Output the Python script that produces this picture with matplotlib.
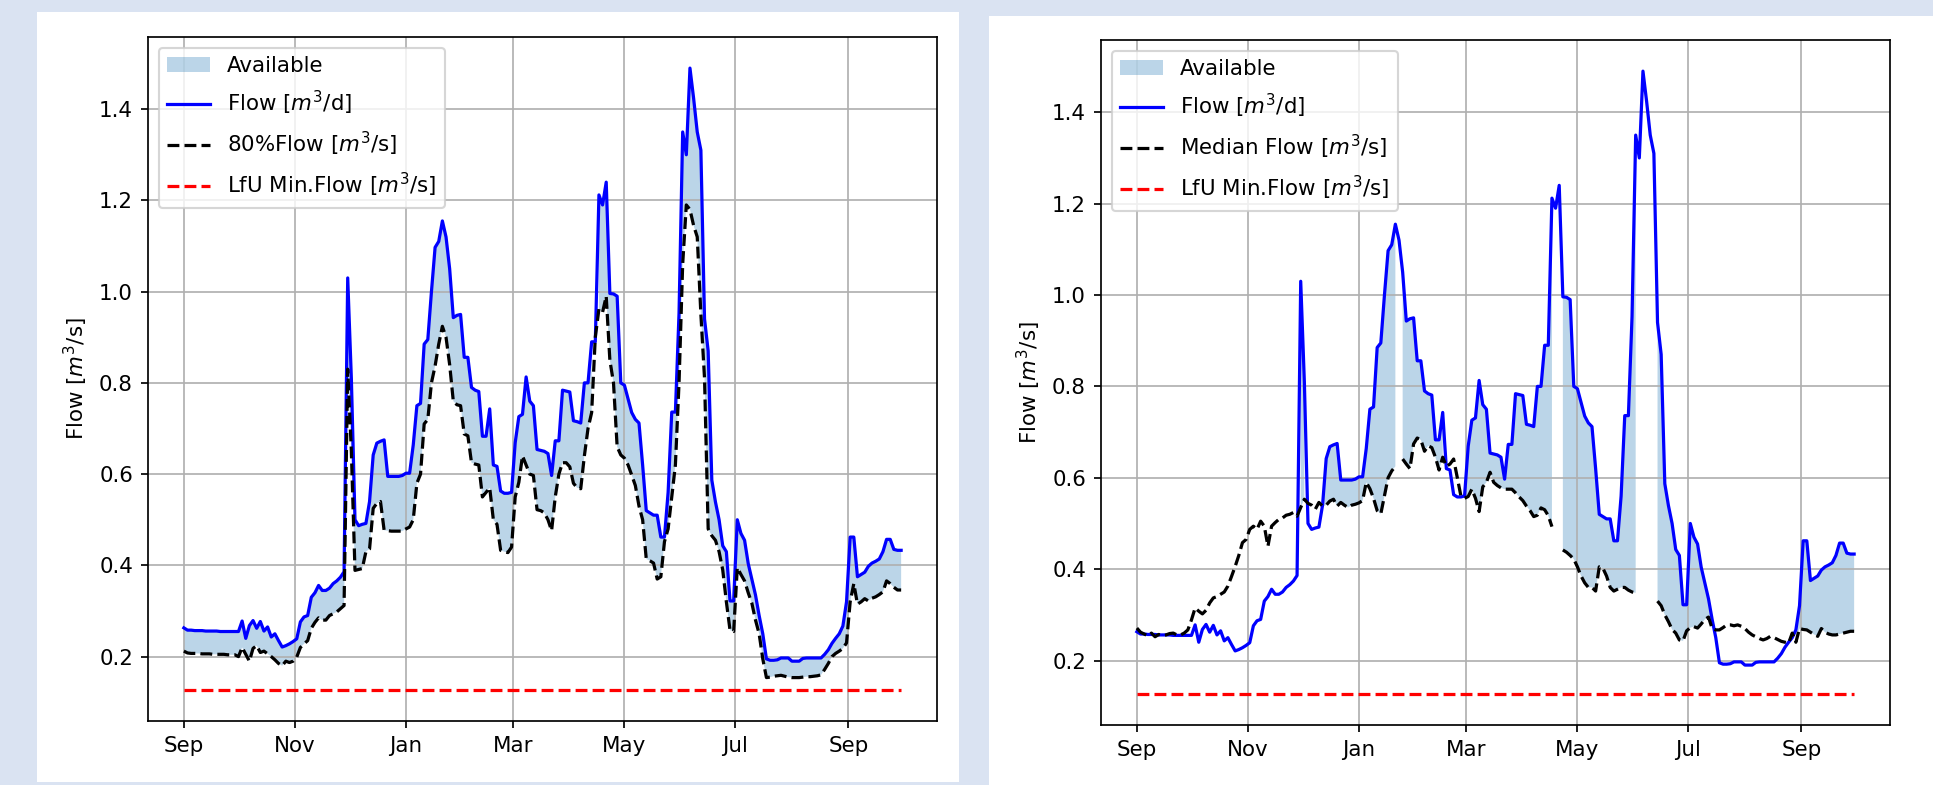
import numpy as np
import pandas as pd
import matplotlib
matplotlib.use("Agg")
import matplotlib.pyplot as plt
import matplotlib.dates as mdates
from matplotlib.patches import Rectangle

# ---- data: one value every second day, 2018-09-01 .. 2019-09-30 ----
dates = pd.date_range("2018-09-01", "2019-09-30", freq="2D")

flow = [
    0.263, 0.258, 0.258, 0.257, 0.257, 0.257, 0.256, 0.256, 0.256, 0.256,
    0.255, 0.255, 0.255, 0.255, 0.255, 0.255, 0.278, 0.240, 0.268, 0.279,
    0.262, 0.277, 0.256, 0.265, 0.243, 0.250, 0.235, 0.221, 0.224, 0.228,
    0.233, 0.239, 0.276, 0.287, 0.290, 0.330, 0.340, 0.356, 0.345, 0.345,
    0.350, 0.360, 0.366, 0.374, 0.386, 1.030, 0.810, 0.500, 0.487, 0.490,
    0.492, 0.540, 0.642, 0.668, 0.672, 0.675, 0.595, 0.595, 0.595, 0.595,
    0.597, 0.602, 0.602, 0.664, 0.750, 0.755, 0.885, 0.895, 1.000, 1.097,
    1.110, 1.155, 1.120, 1.050, 0.943, 0.948, 0.950, 0.856, 0.856, 0.790,
    0.784, 0.781, 0.683, 0.683, 0.743, 0.620, 0.617, 0.563, 0.558, 0.558,
    0.560, 0.669, 0.726, 0.731, 0.813, 0.760, 0.750, 0.654, 0.652, 0.650,
    0.645, 0.597, 0.673, 0.673, 0.784, 0.782, 0.780, 0.717, 0.715, 0.712,
    0.800, 0.800, 0.890, 0.890, 1.212, 1.190, 1.240, 0.996, 0.995, 0.990,
    0.800, 0.795, 0.765, 0.735, 0.720, 0.712, 0.620, 0.520, 0.515, 0.510,
    0.510, 0.462, 0.462, 0.560, 0.736, 0.736, 0.953, 1.350, 1.300, 1.490,
    1.424, 1.350, 1.310, 0.940, 0.870, 0.587, 0.539, 0.500, 0.443, 0.430,
    0.322, 0.322, 0.500, 0.470, 0.455, 0.404, 0.370, 0.335, 0.290, 0.250,
    0.195, 0.192, 0.192, 0.193, 0.197, 0.197, 0.197, 0.190, 0.190, 0.190,
    0.196, 0.197, 0.197, 0.197, 0.197, 0.197, 0.205, 0.215, 0.229, 0.240,
    0.250, 0.267, 0.320, 0.462, 0.462, 0.375, 0.380, 0.385, 0.398, 0.405,
    0.409, 0.414, 0.430, 0.457, 0.457, 0.435, 0.433, 0.433,
]

flow80 = [
    0.212, 0.208, 0.207, 0.207, 0.207, 0.206, 0.206, 0.206, 0.205, 0.205,
    0.205, 0.205, 0.204, 0.204, 0.204, 0.200, 0.220, 0.205, 0.190, 0.218,
    0.224, 0.209, 0.212, 0.206, 0.200, 0.193, 0.185, 0.180, 0.190, 0.187,
    0.190, 0.199, 0.220, 0.228, 0.235, 0.262, 0.275, 0.285, 0.280, 0.280,
    0.290, 0.294, 0.298, 0.305, 0.312, 0.830, 0.650, 0.389, 0.391, 0.393,
    0.430, 0.436, 0.525, 0.536, 0.540, 0.477, 0.476, 0.475, 0.475, 0.475,
    0.475, 0.480, 0.484, 0.500, 0.580, 0.600, 0.710, 0.720, 0.800, 0.837,
    0.885, 0.924, 0.900, 0.840, 0.760, 0.752, 0.750, 0.688, 0.684, 0.625,
    0.622, 0.620, 0.550, 0.560, 0.570, 0.500, 0.490, 0.433, 0.430, 0.428,
    0.440, 0.550, 0.582, 0.640, 0.620, 0.600, 0.597, 0.522, 0.520, 0.515,
    0.500, 0.476, 0.550, 0.600, 0.625, 0.625, 0.616, 0.580, 0.570, 0.568,
    0.640, 0.700, 0.735, 0.900, 0.962, 0.955, 0.990, 0.850, 0.800, 0.660,
    0.642, 0.635, 0.620, 0.598, 0.575, 0.530, 0.500, 0.414, 0.410, 0.405,
    0.370, 0.375, 0.452, 0.480, 0.550, 0.620, 0.800, 1.060, 1.190, 1.180,
    1.145, 1.120, 0.950, 0.810, 0.480, 0.465, 0.455, 0.430, 0.390, 0.320,
    0.258, 0.255, 0.395, 0.380, 0.366, 0.340, 0.317, 0.280, 0.250, 0.195,
    0.154, 0.155, 0.157, 0.158, 0.159, 0.157, 0.155, 0.154, 0.154, 0.154,
    0.155, 0.156, 0.156, 0.157, 0.158, 0.160, 0.172, 0.185, 0.200, 0.207,
    0.212, 0.218, 0.230, 0.320, 0.360, 0.315, 0.320, 0.327, 0.322, 0.328,
    0.331, 0.336, 0.342, 0.366, 0.360, 0.352, 0.346, 0.346,
]

# None = day missing in the median record
median = [
    0.271, 0.262, 0.258, 0.254, 0.260, 0.252, 0.257, 0.255, 0.256, 0.259,
    0.260, 0.256, 0.256, 0.260, 0.267, 0.289, 0.315, 0.308, 0.302, 0.310,
    0.326, 0.337, 0.340, 0.345, 0.350, 0.363, 0.384, 0.406, 0.430, 0.458,
    0.465, 0.487, 0.494, 0.487, 0.505, 0.494, 0.450, 0.494, 0.502, 0.509,
    0.512, 0.518, 0.520, 0.524, 0.516, 0.535, 0.553, 0.544, 0.540, 0.531,
    0.546, 0.538, 0.540, 0.549, 0.553, 0.538, 0.546, 0.540, 0.535, 0.540,
    0.542, 0.545, 0.550, 0.590, 0.576, 0.555, 0.528, 0.521, 0.560, 0.600,
    0.615, 0.625, None, 0.641, 0.630, 0.620, 0.674, 0.687, 0.683, 0.658,
    0.670, 0.666, 0.645, 0.617, 0.645, 0.625, 0.630, 0.641, 0.600, 0.560,
    0.555, 0.559, 0.575, 0.555, 0.526, 0.580, 0.590, 0.612, 0.590, 0.583,
    0.578, 0.575, 0.575, 0.575, 0.567, 0.558, 0.550, 0.538, 0.528, 0.515,
    0.518, 0.534, 0.530, 0.517, 0.493, None, None, 0.442, 0.437, 0.430,
    0.422, 0.405, 0.385, 0.370, 0.360, 0.360, 0.352, 0.405, 0.402, 0.385,
    0.360, 0.352, 0.356, 0.360, 0.360, 0.354, 0.350, 0.348, None, None,
    None, None, None, 0.330, 0.320, 0.300, 0.285, 0.268, 0.260, 0.245,
    0.243, 0.265, 0.272, 0.274, 0.271, 0.280, 0.290, 0.295, 0.270, 0.267,
    0.267, 0.272, 0.278, 0.278, 0.276, 0.278, 0.275, 0.270, 0.262, 0.256,
    0.252, 0.248, 0.245, 0.248, 0.253, 0.250, 0.246, 0.242, 0.240, 0.238,
    0.260, 0.240, 0.270, 0.268, 0.267, 0.262, 0.257, 0.253, 0.270, 0.262,
    0.258, 0.256, 0.256, 0.258, 0.260, 0.262, 0.264, 0.264,
]

lfu_min = 0.127

flow = np.array(flow, dtype=float)
flow80 = np.array(flow80, dtype=float)
median = np.array([np.nan if v is None else v for v in median], dtype=float)
lfu = np.full(len(dates), lfu_min)

W, H = 1933, 785
DPI = 154
fig = plt.figure(figsize=(W / DPI, H / DPI), dpi=DPI)
fig.patch.set_facecolor("#dae3f2")

# two white "screenshot" panels
for x0, y0, x1, y1 in [(37, 12, 959, 782), (989, 16, 1933, 785)]:
    fig.add_artist(Rectangle((x0 / W, 1 - y1 / H), (x1 - x0) / W, (y1 - y0) / H,
                             transform=fig.transFigure, facecolor="white",
                             edgecolor="none", zorder=0))

ax1 = fig.add_axes([148 / W, 1 - 721 / H, 789 / W, 684 / H])
ax2 = fig.add_axes([1101 / W, 1 - 725 / H, 789 / W, 685 / H])


def draw(ax, ref, ref_label):
    with np.errstate(invalid="ignore"):
        mask = flow > ref
    ax.fill_between(dates, ref, flow, where=mask, color="tab:blue", alpha=0.3,
                    linewidth=0, label="Available")
    ax.plot(dates, flow, "b-", label="Flow [$m^3$/d]")
    ax.plot(dates, ref, "k--", label=ref_label)
    ax.plot(dates, lfu, "r--", label="LfU Min.Flow [$m^3$/s]")
    ax.set_ylabel("Flow [$m^3$/s]")
    ax.xaxis.set_major_locator(mdates.MonthLocator(bymonth=[1, 3, 5, 7, 9, 11]))
    ax.xaxis.set_major_formatter(mdates.DateFormatter("%b"))
    ax.grid(True)
    ax.legend(loc="upper left", labelspacing=0.6)


draw(ax1, flow80, "80%Flow [$m^3$/s]")
draw(ax2, median, "Median Flow [$m^3$/s]")

fig.savefig("out.png", dpi=DPI, facecolor=fig.get_facecolor())
